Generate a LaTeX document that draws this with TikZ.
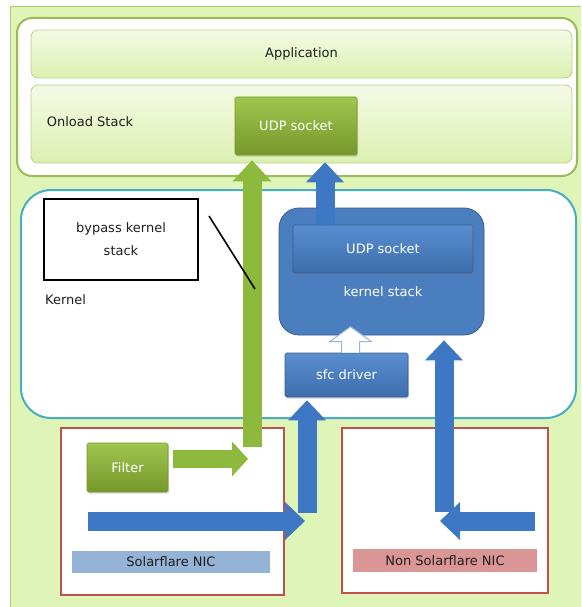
\documentclass[tikz,border=0pt]{standalone}
\usepackage{fontspec}
\setmainfont{DejaVu Sans}
\usepackage{xcolor}
\usepackage{tikz}
\usetikzlibrary{arrows.meta,positioning,calc,shadows}
\definecolor{Panel}{HTML}{DFF5B8}
\definecolor{PanelLine}{HTML}{A9C96B}
\definecolor{Olive}{HTML}{9BBB59}
\definecolor{PaleTop}{HTML}{F4FAE6}
\definecolor{PaleBot}{HTML}{DCF0B0}
\definecolor{PaleLine}{HTML}{B7D385}
\definecolor{LeafTop}{HTML}{9FC64E}
\definecolor{LeafBot}{HTML}{76982C}
\definecolor{Leaf}{HTML}{8DBA3D}
\definecolor{Sea}{HTML}{4BACC6}
\definecolor{SteelTop}{HTML}{5A8ED0}
\definecolor{SteelBot}{HTML}{3D6EAE}
\definecolor{Steel}{HTML}{4A7EBF}
\definecolor{SteelLine}{HTML}{385D8A}
\definecolor{Halo}{HTML}{9DB3D3}
\definecolor{Pipe}{HTML}{3E77C3}
\definecolor{Brick}{HTML}{C0504D}
\definecolor{SkyTag}{HTML}{95B3D7}
\definecolor{RoseTag}{HTML}{DA9694}
\definecolor{Ink}{HTML}{1E1E1E}
\tikzset{
  txt/.style={font=\fontsize{13}{15}\selectfont,text=Ink,inner sep=0pt},
  layer/.style={
    txt, draw=PaleLine, line width=.8pt, rounded corners=7pt,
    top color=PaleTop, bottom color=PaleBot
  },
  leafbox/.style={
    txt, text=white, draw=LeafBot, line width=.6pt, rounded corners=1.5pt,
    top color=LeafTop, bottom color=LeafBot,
    drop shadow={opacity=.3,shadow xshift=1.2pt,shadow yshift=-1.5pt}
  },
  steelbox/.style={
    txt, text=white, draw=SteelLine, line width=.6pt, rounded corners=1.5pt,
    top color=SteelTop, bottom color=SteelBot,
    drop shadow={opacity=.3,shadow xshift=1.2pt,shadow yshift=-1.5pt}
  },
  nicbox/.style={draw=Brick,line width=2pt,fill=white,inner sep=0pt},
  tag/.style={txt,inner sep=0pt},
  fatgreen/.style={line width=19pt,draw=Leaf,-{Triangle[length=21pt,width=39pt,line width=0pt]}},
  fatblue/.style={line width=19pt,draw=Pipe,-{Triangle[length=20pt,width=38pt,line width=0pt]}},
  hollow/.style={draw=Halo,fill=white,line width=1pt}
}
\begin{document}
\begin{tikzpicture}[x=1pt,y=-1pt]
  \useasboundingbox (0,0) rectangle (581,607);
  % green panel behind everything
  \fill[Panel] (10,7) rectangle (581,607);
  \draw[PanelLine,line width=1pt] (10,607) -- (10,7) -- (581,7);

  % user space
  \node[draw=Olive,line width=2pt,fill=white,rounded corners=15pt,
        minimum width=560pt,minimum height=158pt,inner sep=0pt] (user) at (297,97) {};
  \node[layer,minimum width=541pt,minimum height=48pt] (app) at (301.5,54) {Application};
  \node[layer,minimum width=541pt,minimum height=78pt] (onload) at (301.5,124) {};
  \node[txt,anchor=west] (onlbl) at ([xshift=16pt,yshift=2pt]onload.west) {Onload Stack};
  \node[leafbox,minimum width=122pt,minimum height=58pt] (udpon) at (296,126) {UDP socket};

  % kernel
  \node[draw=Sea,line width=2pt,fill=white,rounded corners=30pt,
        minimum width=555pt,minimum height=228pt,inner sep=0pt] (kernel) at (298.5,304) {};
  \node[txt,anchor=west] (klbl) at (45,300) {Kernel};
  \node[draw=black,line width=2pt,fill=white,minimum width=154pt,minimum height=81pt,
        txt,align=center,font=\fontsize{13}{23}\selectfont] (bypass) at (121,239.5) {bypass kernel\\stack};
  \node[draw=SteelLine,line width=.8pt,fill=Steel,rounded corners=20pt,
        minimum width=205pt,minimum height=127pt,inner sep=0pt] (kstack) at (381.5,271.5) {};
  \node[steelbox,minimum width=180pt,minimum height=48pt] (udpk) at (383,249) {UDP socket};
  \node[txt,text=white] (kslbl) at (383,292) {kernel stack};
  \node[steelbox,minimum width=123pt,minimum height=44pt] (sfc) at (346.5,375) {sfc driver};

  % NICs
  \node[nicbox,minimum width=223pt,minimum height=167pt] (sfnic) at (172.5,511.5) {};
  \node[nicbox,minimum width=206pt,minimum height=165pt] (nsfnic) at (445,510.5) {};
  \node[tag,fill=SkyTag,minimum width=198pt,minimum height=22pt] (sftag) at (171,562) {Solarflare NIC};
  \node[tag,fill=RoseTag,minimum width=184pt,minimum height=23pt] (nsftag) at (445,560.5) {Non\ Solarflare NIC};
  \node[leafbox,minimum width=81pt,minimum height=49pt] (filter) at (127.5,467.5) {Filter};

  % paths
  \coordinate (gtail) at (252,447);
  \coordinate (btail) at (325,225);
  \coordinate (sfcin) at (307,513);
  \coordinate (sfin) at (88,521);
  \coordinate (nsfup) at (444,512);
  \coordinate (nsfin) at (535,521);
  \draw[fatgreen,shorten >=5pt] (gtail) -- (gtail |- udpon.south);
  \draw[fatblue,shorten >=7pt] (btail) -- (btail |- udpon.south);
  \draw[hollow] ([xshift=4pt]sfc.north) ++(-9,0) -- ++(0,-11) -- ++(-12,0) -- ++(21,-15)
    -- ++(21,15) -- ++(-12,0) -- ++(0,11);
  \draw[fatblue,shorten >=3pt] (sfcin) -- (sfcin |- sfc.south);
  \draw[fatblue,shorten >=5pt] (nsfup) -- (nsfup |- kstack.south);
  \draw[fatblue,shorten >=2pt] (sfin) -- (sfin -| sfcin);
  \draw[fatblue,shorten >=-4pt] (nsfin) -- (nsfin -| nsfup);
  \draw[line width=18pt,draw=Leaf,-{Triangle[length=16pt,width=35pt,line width=0pt]},shorten >=4pt]
    ([xshift=5pt,yshift=8.5pt]filter.east) -- ([yshift=8.5pt]filter.east -| gtail);

  % callout
  \coordinate (callA) at (209,216);
  \coordinate (callB) at (255,289);
  \draw[black,line width=1.6pt] (callA) -- (callB);
\end{tikzpicture}
\end{document}
